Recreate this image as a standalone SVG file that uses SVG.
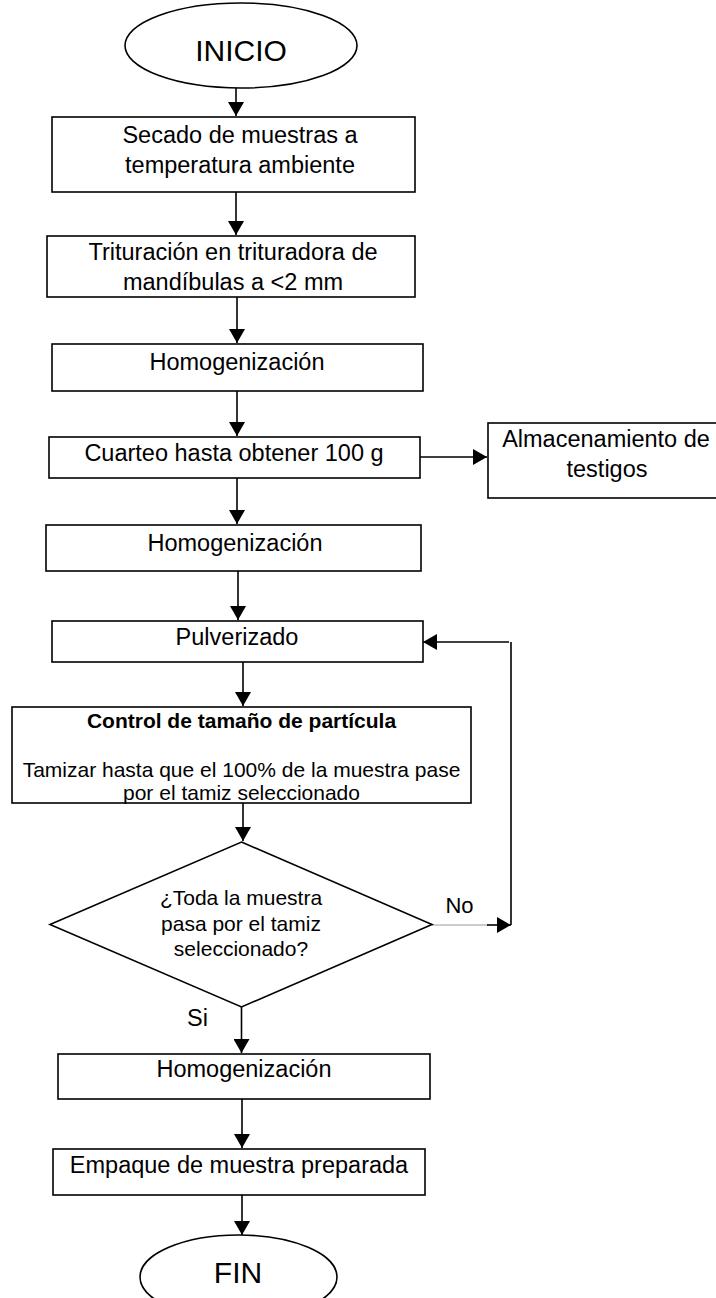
<svg xmlns="http://www.w3.org/2000/svg" width="716" height="1298" viewBox="0 0 716 1298">
<style>
.box{fill:#fff;stroke:#000;stroke-width:1.6}
.t{font-family:"Liberation Sans",Arial,sans-serif;font-size:23.5px;fill:#000;text-anchor:middle}
.s{font-size:21px}
.b{font-weight:bold}
.big{font-size:30px}
.c{fill:none;stroke:#000;stroke-width:1.6}
.g{fill:none;stroke:#9a9a9a;stroke-width:1}
</style>
<defs>
<marker id="ah" markerUnits="userSpaceOnUse" markerWidth="16" markerHeight="16" viewBox="0 0 14 16" refX="14" refY="8" orient="auto">
<path d="M0,0 L14,8 L0,16 z" fill="#000"/>
</marker>
</defs>
<rect width="716" height="1298" fill="#fff"/>
<g id="connectors">
<line class="c" x1="236" y1="88" x2="236" y2="116" marker-end="url(#ah)"/>
<line class="c" x1="236" y1="192" x2="236" y2="235" marker-end="url(#ah)"/>
<line class="c" x1="237" y1="297" x2="237" y2="343" marker-end="url(#ah)"/>
<line class="c" x1="237" y1="391" x2="237" y2="436" marker-end="url(#ah)"/>
<line class="c" x1="420" y1="457" x2="487" y2="457" marker-end="url(#ah)"/>
<line class="c" x1="237" y1="478" x2="237" y2="524" marker-end="url(#ah)"/>
<line class="c" x1="238" y1="571" x2="238" y2="620" marker-end="url(#ah)"/>
<line class="c" x1="243" y1="662" x2="243" y2="706" marker-end="url(#ah)"/>
<line class="c" x1="243" y1="803" x2="243" y2="841" marker-end="url(#ah)"/>
<line class="c" x1="241.5" y1="1007" x2="241.5" y2="1053" marker-end="url(#ah)"/>
<line class="c" x1="242" y1="1099" x2="242" y2="1148" marker-end="url(#ah)"/>
<line class="c" x1="242" y1="1195" x2="242" y2="1235" marker-end="url(#ah)"/>
<line class="g" x1="432" y1="925" x2="488" y2="925"/>
<line class="c" x1="487" y1="925" x2="511" y2="925" marker-end="url(#ah)"/>
<line class="c" x1="511" y1="925" x2="511" y2="642"/>
<line class="c" x1="509" y1="642" x2="423" y2="642" marker-end="url(#ah)"/>
</g>
<g id="inicio">
<ellipse class="box" cx="241" cy="45.5" rx="116" ry="42.5"/>
<text class="t big" x="241" y="61">INICIO</text>
</g>
<g id="secado">
<rect class="box" x="52" y="117" width="363" height="75"/>
<text class="t" x="240" y="143">Secado de muestras a</text>
<text class="t" x="240" y="173">temperatura ambiente</text>
</g>
<g id="trituracion">
<rect class="box" x="47" y="236" width="368" height="61"/>
<text class="t" x="233" y="260">Trituración en trituradora de</text>
<text class="t" x="233" y="290">mandíbulas a &lt;2 mm</text>
</g>
<g id="homog1">
<rect class="box" x="52" y="344" width="371" height="47"/>
<text class="t" x="237" y="370">Homogenización</text>
</g>
<g id="cuarteo">
<rect class="box" x="49" y="437" width="371" height="41"/>
<text class="t" x="234" y="461">Cuarteo hasta obtener 100 g</text>
</g>
<g id="almacenamiento">
<rect class="box" x="488" y="423" width="240" height="75"/>
<text class="t" x="606" y="447">Almacenamiento de</text>
<text class="t" x="607" y="477">testigos</text>
</g>
<g id="homog2">
<rect class="box" x="46" y="525" width="375" height="46"/>
<text class="t" x="235" y="551">Homogenización</text>
</g>
<g id="pulverizado">
<rect class="box" x="52" y="621" width="371" height="41"/>
<text class="t" x="237" y="645">Pulverizado</text>
</g>
<g id="control">
<rect class="box" x="12" y="707" width="459" height="96"/>
<text class="t s b" x="241.5" y="728">Control de tamaño de partícula</text>
<text class="t s" x="241.5" y="777">Tamizar hasta que el 100% de la muestra pase</text>
<text class="t s" x="241.5" y="800">por el tamiz seleccionado</text>
</g>
<g id="decision">
<polygon class="box" points="241.5,842 432,924.5 241.5,1007 50,924.5"/>
<text class="t s" x="241" y="905">¿Toda la muestra</text>
<text class="t s" x="241" y="930.5">pasa por el tamiz</text>
<text class="t s" x="241" y="956">seleccionado?</text>
<text class="t" style="font-size:22px" x="459.5" y="913">No</text>
<text class="t" x="197.5" y="1026">Si</text>
</g>
<g id="homog3">
<rect class="box" x="58" y="1054" width="372" height="45"/>
<text class="t" x="244" y="1077">Homogenización</text>
</g>
<g id="empaque">
<rect class="box" x="53" y="1149" width="372" height="46"/>
<text class="t" x="239" y="1173">Empaque de muestra preparada</text>
</g>
<g id="fin">
<ellipse class="box" cx="238.5" cy="1277" rx="98.5" ry="42"/>
<text class="t big" x="238" y="1283">FIN</text>
</g>
</svg>
